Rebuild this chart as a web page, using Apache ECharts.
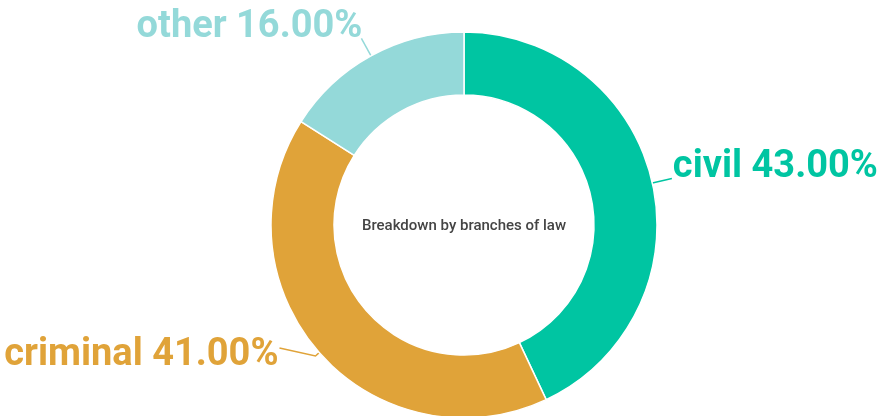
<!DOCTYPE html>
<html>
<head>
<meta charset="utf-8">
<script src="https://cdn.jsdelivr.net/npm/echarts@6/dist/echarts.min.js"></script>
<style>
  html, body { margin: 0; padding: 0; background: #fff; }
  #chart { width: 880px; height: 416px; }
</style>
</head>
<body>
<div id="chart"></div>
<script>
// branches of law and their shares
const categories = ["civil", "criminal", "other"];
const shares = [43, 41, 16];
const colors = ["#00c5a2", "#e0a339", "#94d9d9"];
const centerTitle = "Breakdown by branches of law";

// label tweaks per slice (line shape, text nudge, tail lift)
const labelTweaks = {
  civil: { length: 20, length2: 0, dx: 0, dy: -11, tail: 0 },
  criminal: { length: 5, length2: 36, dx: 0, dy: 0, tail: -8 },
  other: { length: 20, length2: 0, dx: 2, dy: -11, tail: 0 },
};

const myChart = echarts.init(document.getElementById("chart"));

const option = {
  animation: false,
  title: {
    text: centerTitle,
    left: 464,
    top: 226,
    padding: 0,
    textAlign: "center",
    textVerticalAlign: "middle",
    textStyle: {
      fontFamily: "Roboto",
      fontWeight: 500,
      fontSize: 15,
      color: "#444",
    },
  },
  series: [
    {
      type: "pie",
      center: [464, 225],
      radius: [130, 193],
      startAngle: 90,
      clockwise: true,
      avoidLabelOverlap: false,
      itemStyle: {
        borderColor: "#fff",
        borderWidth: 1.5,
      },
      label: {
        show: true,
        formatter: (p) => p.name + " " + p.value.toFixed(2) + "%",
        fontFamily: "Roboto",
        fontWeight: "bold",
        fontSize: 38,
        distanceToLabelLine: 1,
      },
      labelLine: {
        show: true,
        lineStyle: { width: 1.5 },
      },
      labelLayout: (p) => {
        const t = labelTweaks[categories[p.dataIndex]];
        const res = { dx: t.dx, dy: t.dy };
        if (t.tail && p.labelLinePoints) {
          const pts = p.labelLinePoints.map((q) => q.slice());
          pts[pts.length - 1][1] += t.tail;
          res.labelLinePoints = pts;
        }
        return res;
      },
      data: categories.map((name, i) => {
        const t = labelTweaks[name];
        return {
          name: name,
          value: shares[i],
          itemStyle: { color: colors[i] },
          label: { color: colors[i] },
          labelLine: { length: t.length, length2: t.length2 },
        };
      }),
    },
  ],
};

myChart.setOption(option);
</script>
</body>
</html>
